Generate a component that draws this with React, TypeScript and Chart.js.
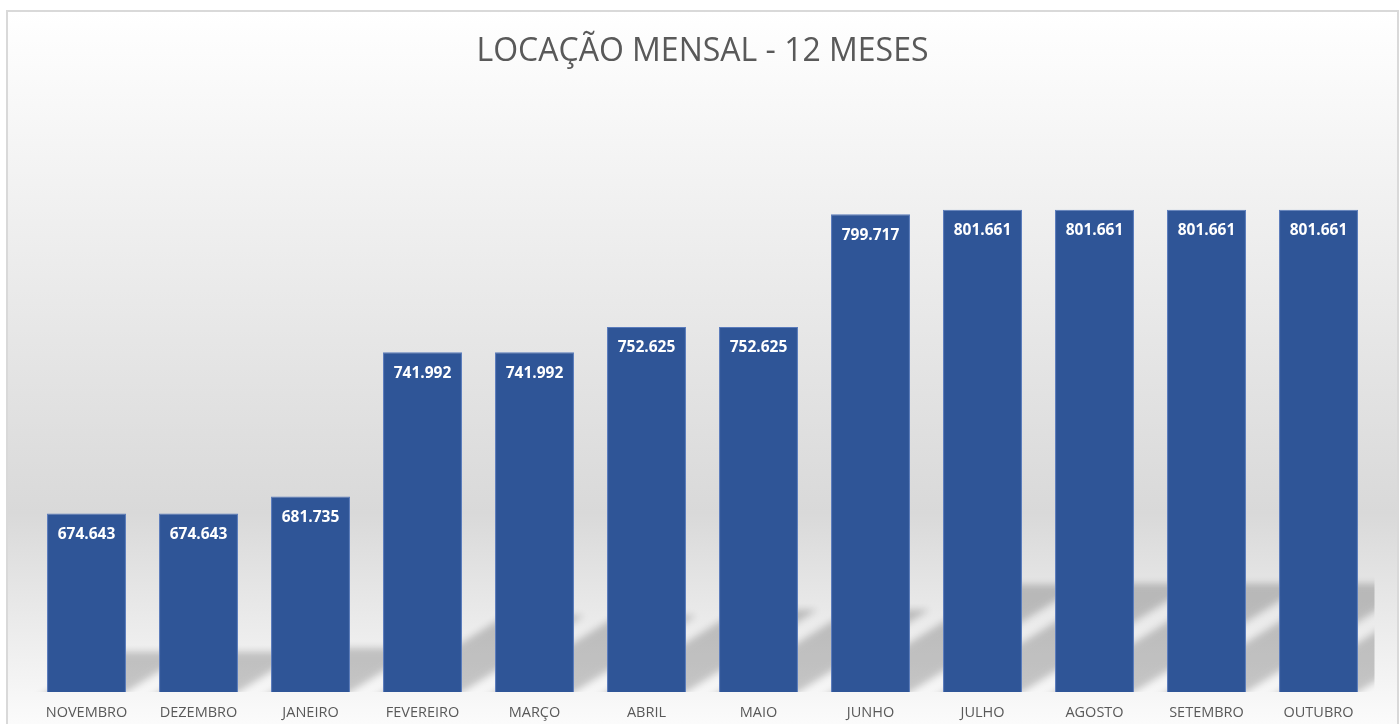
import React, { useEffect, useRef } from 'react';
import { Chart, registerables } from 'chart.js';

Chart.register(...registerables);

const categories = ['NOVEMBRO', 'DEZEMBRO', 'JANEIRO', 'FEVEREIRO', 'MARÇO', 'ABRIL', 'MAIO', 'JUNHO', 'JULHO', 'AGOSTO', 'SETEMBRO', 'OUTUBRO'];
const values = [674643, 674643, 681735, 741992, 741992, 752625, 752625, 799717, 801661, 801661, 801661, 801661];
const chartTitle = 'LOCAÇÃO MENSAL - 12 MESES';
const yMin = 600000;
const yMax = 850000;

function fmt(v: number): string {
  return String(Math.round(v)).replace(/\B(?=(\d{3})+(?!\d))/g, '.');
}

const floorShadow = {
  id: 'floorShadow',
  beforeDatasetsDraw(chart: any) {
    const { ctx, chartArea } = chart;
    const meta = chart.getDatasetMeta(0);
    const base = chart.scales.y.getPixelForValue(yMin);
    const off = 5000;
    ctx.save();
    ctx.beginPath();
    ctx.rect(chartArea.left, chartArea.top, chartArea.right - chartArea.left, chartArea.bottom - chartArea.top);
    ctx.clip();
    ctx.shadowColor = 'rgba(0,0,0,0.2)';
    ctx.shadowBlur = 7;
    ctx.shadowOffsetX = off;
    ctx.shadowOffsetY = 0;
    ctx.fillStyle = '#000000';
    meta.data.forEach((bar: any) => {
      const h = base - bar.y;
      const hs = h * 0.225;
      const dx = hs * 1.6;
      const l = bar.x - bar.width / 2 - off;
      const r = bar.x + bar.width / 2 - off;
      const ext = 8;
      const ex = 1.6 * ext;
      ctx.beginPath();
      ctx.moveTo(l - ex, base + ext);
      ctx.lineTo(r - ex, base + ext);
      ctx.lineTo(r + dx, base - hs);
      ctx.lineTo(l + dx, base - hs);
      ctx.closePath();
      ctx.fill();
    });
    ctx.restore();
  },
};

const barLabels = {
  id: 'barLabels',
  afterDatasetsDraw(chart: any) {
    const { ctx } = chart;
    const meta = chart.getDatasetMeta(0);
    const data = chart.data.datasets[0].data as number[];
    ctx.save();
    ctx.fillStyle = '#ffffff';
    ctx.font = 'bold 15.5px "Open Sans"';
    ctx.textAlign = 'center';
    ctx.textBaseline = 'middle';
    meta.data.forEach((bar: any, i: number) => {
      ctx.fillText(fmt(data[i]), bar.x, bar.y + 21);
    });
    ctx.restore();
  },
};

export default function App() {
  const ref = useRef<HTMLCanvasElement | null>(null);

  useEffect(() => {
    if (!ref.current) return;
    const chart = new Chart(ref.current, {
      type: 'bar',
      data: {
        labels: categories,
        datasets: [
          {
            data: values,
            backgroundColor: '#2F5597',
            borderColor: '#5a7bbb',
            borderWidth: 1,
            borderSkipped: false,
            barPercentage: 0.705,
            categoryPercentage: 1,
          },
        ],
      },
      options: {
        responsive: false,
        animation: false,
        layout: { padding: { left: 30.5, right: 25.5, top: 0, bottom: 5.6 } },
        plugins: {
          legend: { display: false },
          tooltip: { enabled: false },
          title: {
            display: true,
            text: chartTitle,
            color: '#595959',
            font: { family: 'Open Sans', size: 32, weight: 'normal', lineHeight: 1.2 },
            padding: { top: 32.8, bottom: 22.8 },
          },
        },
        scales: {
          x: {
            offset: true,
            grid: { display: false, drawTicks: false },
            border: { display: false },
            ticks: {
              color: '#595959',
              font: { family: 'Open Sans', size: 14.5, lineHeight: 1.2 },
              padding: 12.5,
              maxRotation: 0,
              autoSkip: false,
            },
          },
          y: { display: false, min: yMin, max: yMax },
        },
      },
      plugins: [floorShadow, barLabels],
    });
    return () => chart.destroy();
  }, []);

  return (
    <div style={{ position: 'fixed', left: 0, top: 0, width: 1400, height: 724, overflow: 'hidden', background: '#ffffff' }}>
      <div
        style={{
          position: 'absolute',
          left: 6,
          top: 10,
          width: 1393,
          height: 740,
          boxSizing: 'border-box',
          border: '2px solid #d9d9d9',
          background: 'linear-gradient(to bottom, #ffffff 0%, #d9d9d9 68%, #ffffff 100%)',
        }}
      />
      <canvas ref={ref} width={1400} height={740} style={{ position: 'absolute', left: 0, top: 0, display: 'block' }} />
    </div>
  );
}
